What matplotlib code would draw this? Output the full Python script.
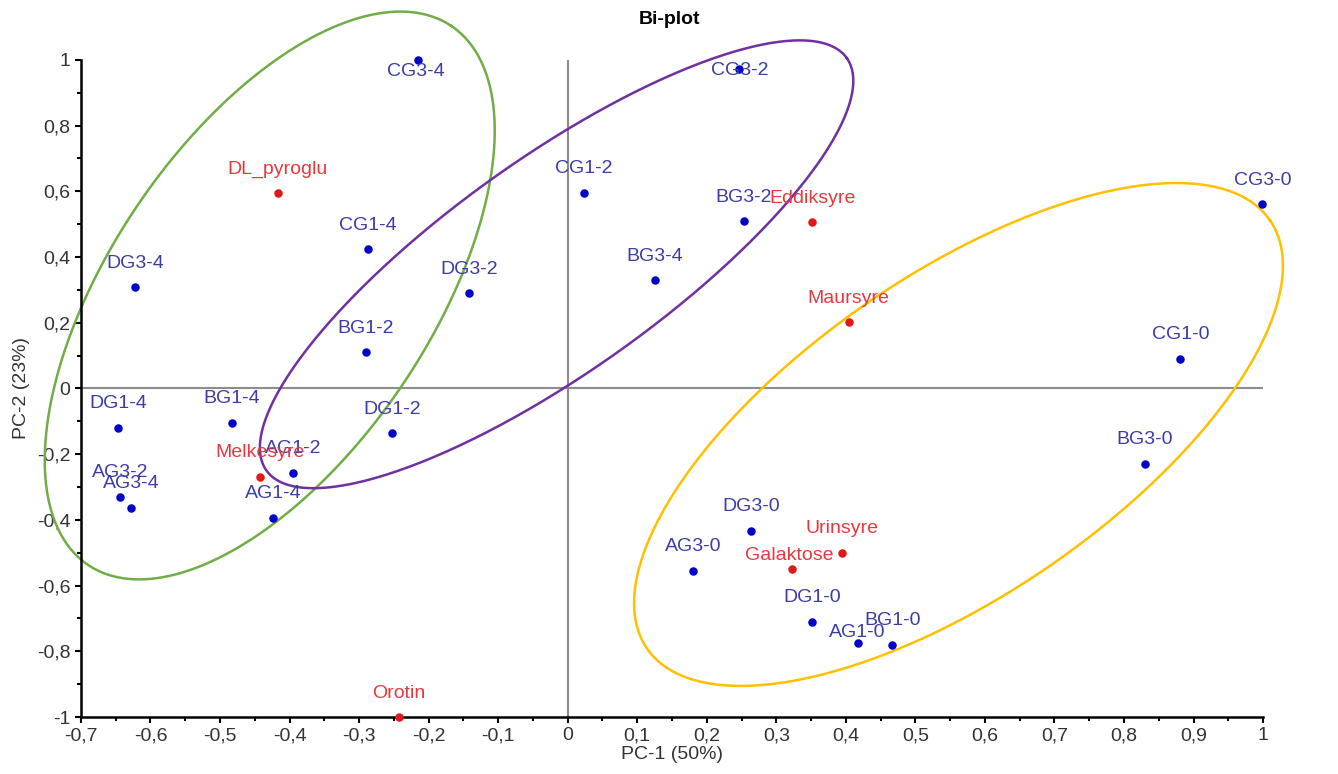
import numpy as np
import matplotlib
matplotlib.use("Agg")
import matplotlib.pyplot as plt
from matplotlib.ticker import MultipleLocator, FuncFormatter

plt.rcParams['font.family'] = ['Liberation Sans', 'DejaVu Sans']

# sample scores (PC-1, PC-2)
samples = ["CG3-4", "CG3-2", "CG1-2", "BG3-2", "CG3-0", "DG3-4", "CG1-4", "DG3-2",
           "BG3-4", "BG1-2", "CG1-0", "DG1-4", "BG1-4", "DG1-2", "AG1-2", "AG3-2",
           "AG3-4", "AG1-4", "BG3-0", "DG3-0", "AG3-0", "DG1-0", "AG1-0", "BG1-0"]
sample_x = [-0.216, 0.247, 0.023, 0.253, 0.999, -0.622, -0.287, -0.142,
            0.125, -0.290, 0.881, -0.647, -0.483, -0.253, -0.395, -0.644,
            -0.628, -0.424, 0.830, 0.264, 0.180, 0.351, 0.418, 0.467]
sample_y = [1.0, 0.972, 0.595, 0.509, 0.561, 0.308, 0.424, 0.290,
            0.329, 0.110, 0.091, -0.119, -0.104, -0.137, -0.256, -0.329,
            -0.363, -0.393, -0.229, -0.433, -0.555, -0.710, -0.774, -0.780]

# variable loadings
variables = ["DL_pyroglu", "Eddiksyre", "Maursyre", "Melkesyre", "Urinsyre", "Galaktose", "Orotin"]
var_x = [-0.417, 0.352, 0.404, -0.443, 0.394, 0.323, -0.243]
var_y = [0.595, 0.506, 0.201, -0.268, -0.500, -0.549, -1.0]

# label offsets in pixels (default above the point)
label_offset = {"CG3-4": (-2, -12), "CG3-2": (0, -1), "Galaktose": (-3, 13), "AG1-0": (-1, 10)}

# group ellipses: centre (data), semi axes (px), angle (deg)
groups = [
    ((-0.4285, 0.283), 325, 160, 56.0, "#70ad47"),
    ((-0.016, 0.378), 356, 107, 35.4, "#7030a0"),
    ((0.562, -0.140), 378, 160, 34.5, "#ffc000"),
]

fig = plt.figure(figsize=(13.38, 7.74), dpi=100)
ax = fig.add_axes([0.0605, 0.0736, 0.8835, 0.849])
ax.set_xlim(-0.7, 1)
ax.set_ylim(-1, 1)

ax.plot([-0.7, 1], [0, 0], color="#8c8c8c", lw=1.5, zorder=1)
ax.plot([0, 0], [-1, 1], color="#8c8c8c", lw=1.5, zorder=1)

# pixels per data unit
kx = 0.8835 * 1338 / 1.7
ky = 0.849 * 774 / 2.0
t = np.linspace(0, 2 * np.pi, 400)
for (cx, cy), a, b, ang, col in groups:
    th = np.radians(ang)
    px = a * np.cos(t) * np.cos(th) - b * np.sin(t) * np.sin(th)
    py = a * np.cos(t) * np.sin(th) + b * np.sin(t) * np.cos(th)
    ax.plot(cx + px / kx, cy + py / ky, color=col, lw=1.8, clip_on=False, zorder=2)

ax.scatter(sample_x, sample_y, s=26, color="#0000c8", zorder=4, clip_on=False)
ax.scatter(var_x, var_y, s=26, color="#e01818", zorder=4, clip_on=False)

for name, x, y in zip(samples, sample_x, sample_y):
    dx, dy = label_offset.get(name, (0, 24))
    ax.annotate(name, (x, y), xytext=(dx, dy), textcoords="offset pixels",
                ha="center", va="center", fontsize=14, color="#3c3ca8", zorder=5)
for name, x, y in zip(variables, var_x, var_y):
    dx, dy = label_offset.get(name, (0, 24))
    ax.annotate(name, (x, y), xytext=(dx, dy), textcoords="offset pixels",
                ha="center", va="center", fontsize=14, color="#e8383d", zorder=5)

for s in ["top", "right"]:
    ax.spines[s].set_visible(False)
for s in ["left", "bottom"]:
    ax.spines[s].set_linewidth(1.8)

ax.xaxis.set_major_locator(MultipleLocator(0.1))
ax.xaxis.set_minor_locator(MultipleLocator(0.05))
ax.yaxis.set_major_locator(MultipleLocator(0.2))
ax.yaxis.set_minor_locator(MultipleLocator(0.1))
fmt = FuncFormatter(lambda v, p: ("%g" % round(v, 2)).replace(".", ",") if abs(v) > 1e-9 else "0")
ax.xaxis.set_major_formatter(fmt)
ax.yaxis.set_major_formatter(fmt)
ax.tick_params(which="major", length=4, width=1.5, labelsize=14, labelcolor="#333333")
ax.tick_params(which="minor", length=3, width=1.5)

ax.set_xlabel("PC-1 (50%)", fontsize=14, color="#333333", labelpad=1)
ax.set_ylabel("PC-2 (23%)", fontsize=14, color="#333333", labelpad=5)
fig.text(0.5, 0.975, "Bi-plot", ha="center", va="center", fontsize=14, fontweight="bold")

fig.savefig("out.png", dpi=100)
